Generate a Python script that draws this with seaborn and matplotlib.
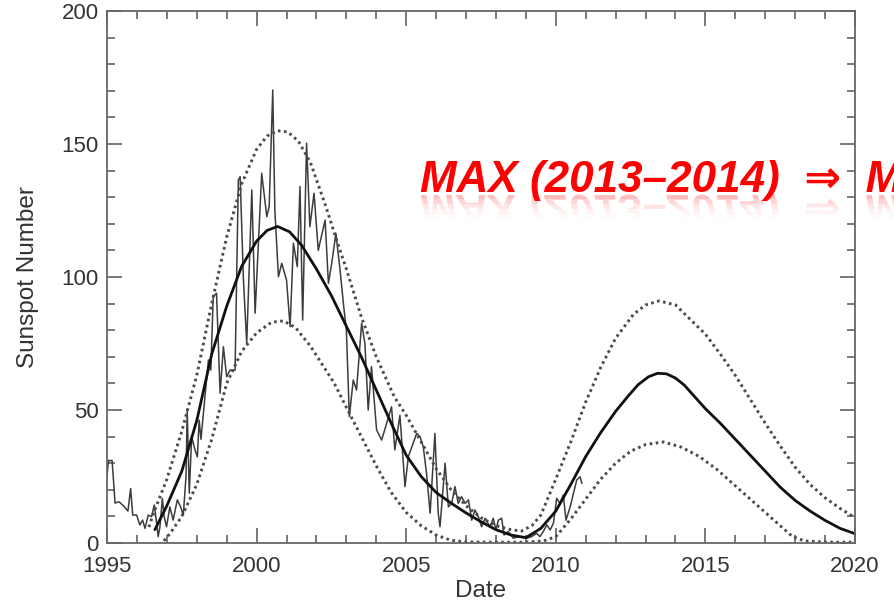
import numpy as np
import pandas as pd
import matplotlib
matplotlib.use("Agg")
import matplotlib.pyplot as plt
import seaborn as sns
from matplotlib.ticker import MultipleLocator
from matplotlib.textpath import TextPath
from matplotlib.patches import PathPatch
from matplotlib.font_manager import FontProperties
from matplotlib.transforms import Affine2D, Bbox

# ---------------- data ----------------
obs_year = [1995.00, 1995.05, 1995.17, 1995.27, 1995.40, 1995.55, 1995.70, 1995.79, 1995.86, 1995.99,
            1996.10, 1996.19, 1996.27, 1996.38, 1996.49, 1996.58, 1996.66, 1996.71, 1996.77, 1996.85,
            1996.91, 1996.99, 1997.10, 1997.21, 1997.35, 1997.46, 1997.55, 1997.64, 1997.68, 1997.75,
            1997.83, 1997.94, 1998.02, 1998.08, 1998.14, 1998.39, 1998.47, 1998.55, 1998.66, 1998.78,
            1998.89, 1999.00, 1999.11, 1999.28, 1999.39, 1999.45, 1999.56, 1999.67, 1999.84, 1999.95,
            2000.17, 2000.34, 2000.42, 2000.54, 2000.61, 2000.73, 2000.84, 2001.00, 2001.12, 2001.23,
            2001.36, 2001.45, 2001.54, 2001.67, 2001.78, 2001.92, 2002.06, 2002.29, 2002.40, 2002.51,
            2002.65, 2002.79, 2002.90, 2003.00, 2003.10, 2003.23, 2003.34, 2003.51, 2003.62, 2003.73,
            2003.84, 2004.01, 2004.18, 2004.51, 2004.62, 2004.79, 2004.96, 2005.07, 2005.35, 2005.46,
            2005.57, 2005.68, 2005.80, 2005.96, 2006.07, 2006.13, 2006.30, 2006.41, 2006.52, 2006.63,
            2006.74, 2006.85, 2006.97, 2007.08, 2007.19, 2007.30, 2007.41, 2007.52, 2007.64, 2007.80,
            2007.91, 2008.00, 2008.08, 2008.19, 2008.27, 2008.41, 2008.58, 2008.75, 2008.91, 2009.03,
            2009.19, 2009.36, 2009.47, 2009.58, 2009.70, 2009.81, 2009.92, 2010.03, 2010.14, 2010.25,
            2010.34, 2010.48, 2010.59, 2010.70, 2010.81, 2010.87]
obs_value = [25, 31, 31, 15, 15.5, 14, 12, 20.5, 10.5, 10.5,
             6.8, 8.6, 5.5, 10.5, 9.9, 14.3, 7.4, 2.4, 6.1, 16.8,
             9.9, 6.1, 13.6, 8.6, 16.2, 13.6, 10.5, 24.9, 50, 18.7,
             40, 35, 32.4, 46.2, 39, 68.8, 65, 92.6, 93.9, 56.3,
             73.8, 62.5, 65, 65, 136.5, 137.7, 98.9, 75, 132.7, 86.4,
             139, 122.7, 126.4, 170.3, 125.2, 100.1, 105.1, 98.9, 81.3, 112.7,
             103.9, 134, 83.8, 150.3, 118.9, 131.5, 110, 121.4, 97.6, 105.1,
             116.4, 102.6, 90.1, 80, 47.5, 61.3, 57.5, 82.6, 75, 50,
             66.3, 42.5, 38.7, 51.2, 35, 48, 21.2, 32.4, 41.2, 40,
             36.2, 26.2, 11.2, 41.2, 11.2, 6.1, 30, 13.6, 14.9, 21.2,
             14.9, 17.4, 14.9, 16.2, 8.6, 12.4, 9.9, 6.1, 9.3, 6.1,
             9.3, 4.9, 8.6, 9.3, 3, 4.3, 1.8, 2.4, 2.1, 1.8,
             2.4, 3.6, 2.4, 4.3, 6.8, 4.9, 7.4, 16.8, 14.9, 18,
             8.6, 13.6, 18.7, 23.7, 24.9, 22.4]

mean_year = [1996.6, 1997.0, 1997.5, 1998.0, 1998.5, 1999.0, 1999.5, 2000.0, 2000.35, 2000.7,
             2001.1, 2001.5, 2002.0, 2002.5, 2003.0, 2003.5, 2004.0, 2004.5, 2005.0, 2005.5,
             2006.0, 2006.5, 2007.0, 2007.5, 2008.0, 2008.5, 2009.0, 2009.5, 2010.0, 2010.5,
             2011.0, 2011.5, 2012.0, 2012.4, 2012.75, 2013.1, 2013.4, 2013.7, 2014.0, 2014.3,
             2014.6, 2015.0, 2015.5, 2016.0, 2016.5, 2017.0, 2017.5, 2018.0, 2018.5, 2019.0,
             2019.5, 2020.0]
mean_value = [5, 14, 27, 46, 71, 89, 104, 113.5, 117.5, 119,
              117, 112, 103, 93, 81.5, 70, 57.5, 45, 33, 25,
              19, 15, 11.3, 8, 5, 3, 2, 5.5, 12, 22,
              32.5, 41.5, 49.5, 55, 59.5, 62.5, 63.8, 63.6, 62, 59.3,
              55.5, 50.5, 45, 39, 33, 27, 21, 16, 12, 8.5,
              5.5, 3.5]

upper_year = [1996.4, 1996.55, 1997.0, 1997.5, 1998.0, 1998.5, 1999.0, 1999.5, 2000.0, 2000.35,
              2000.7, 2001.05, 2001.4, 2001.8, 2002.3, 2002.7, 2003.0, 2003.5, 2004.0, 2004.6,
              2005.0, 2005.5, 2006.0, 2006.5, 2007.0, 2007.5, 2008.0, 2008.5, 2008.85, 2009.2,
              2009.5, 2010.0, 2010.5, 2011.0, 2011.5, 2012.0, 2012.6, 2013.0, 2013.45, 2014.0,
              2014.5, 2015.0, 2015.5, 2016.0, 2016.5, 2017.0, 2017.5, 2018.0, 2018.5, 2019.0,
              2019.5, 2020.0]
upper_value = [6, 11, 24, 42, 63, 90, 115, 135, 148, 153,
               155, 154.5, 151, 143, 127, 113, 103, 85, 70, 55,
               48, 38, 28, 20, 14, 9.5, 6.5, 5, 4.5, 6.5,
               10.5, 24, 38, 53, 66, 77, 86, 89.5, 91, 89.5,
               84, 78.5, 71, 63, 54, 45, 36.5, 28.5, 22, 17,
               13, 9.5]

lower_year = [1996.9, 1997.1, 1997.5, 1998.0, 1998.5, 1999.0, 1999.5, 2000.0, 2000.5, 2000.9,
              2001.3, 2001.8, 2002.2, 2002.6, 2003.0, 2003.5, 2004.0, 2004.5, 2005.0, 2005.5,
              2006.0, 2006.5, 2007.0, 2008.0, 2009.0, 2009.6, 2010.0, 2010.5, 2010.9, 2011.5,
              2012.0, 2012.5, 2013.0, 2013.6, 2014.2, 2014.8, 2015.4, 2015.9, 2016.5, 2017.0,
              2017.5, 2017.9, 2018.3, 2019.0, 2020.0]
lower_value = [0.8, 3.5, 10, 22, 39, 60, 72, 79, 83, 83.5,
               81, 74, 67, 60, 51, 40, 29, 19, 11.5, 6.5,
               3, 1, 0.4, 0.3, 0.3, 0.8, 2.4, 9, 15, 24,
               30, 34.5, 37, 38, 36, 32.5, 27.5, 22.5, 16.5, 11.5,
               6.5, 2.5, 0.8, 0.3, 0.3]

x_ticks = [1995, 2000, 2005, 2010, 2015, 2020]
y_ticks = [0, 50, 100, 150, 200]
annotation = "MAX (2013\u20132014)  \u21d2  M"

# ---------------- style ----------------
sns.set_style("ticks")
plt.rcParams["font.family"] = ["Liberation Sans", "DejaVu Sans"]

W, H = 895, 603
fig = plt.figure(figsize=(W / 100, H / 100), dpi=100)
L, R, T, B = 107, 855, 11, 543
ax = fig.add_axes([L / W, 1 - B / H, (R - L) / W, (B - T) / H])

df_obs = pd.DataFrame({"year": obs_year, "value": obs_value})
df_mean = pd.DataFrame({"year": mean_year, "value": mean_value})
df_up = pd.DataFrame({"year": upper_year, "value": upper_value})
df_lo = pd.DataFrame({"year": lower_year, "value": lower_value})

sns.lineplot(data=df_obs, x="year", y="value", ax=ax, color="#3c3c3c",
             linewidth=1.1, estimator=None, sort=False)
sns.lineplot(data=df_up, x="year", y="value", ax=ax, color="#4a4a4a",
             linewidth=2.1, linestyle=(0, (0.9, 1.2)), estimator=None, sort=False)
sns.lineplot(data=df_lo, x="year", y="value", ax=ax, color="#4a4a4a",
             linewidth=2.1, linestyle=(0, (0.9, 1.2)), estimator=None, sort=False)
sns.lineplot(data=df_mean, x="year", y="value", ax=ax, color="#111111",
             linewidth=2.0, estimator=None, sort=False)

ax.set_xlim(1995, 2020)
ax.set_ylim(0, 200)
ax.set_xticks(x_ticks)
ax.set_yticks(y_ticks)
ax.xaxis.set_minor_locator(MultipleLocator(1))
ax.yaxis.set_minor_locator(MultipleLocator(10))
ax.tick_params(which="both", direction="in", top=True, right=True,
               color="#555555", width=1.1)
ax.tick_params(which="major", length=11, labelsize=16, labelcolor="#333333")
ax.tick_params(axis="x", which="major", pad=9)
ax.tick_params(axis="y", which="major", pad=6)
ax.tick_params(which="minor", length=5.5)
for s in ax.spines.values():
    s.set_color("#666666")
    s.set_linewidth(1.3)

ax.set_xlabel("Date", fontsize=17.5, color="#333333")
ax.set_ylabel("Sunspot Number", fontsize=17.5, color="#333333")
ax.xaxis.set_label_coords(0.5, -0.07)
ax.yaxis.set_label_coords(-0.091, 0.5)

# ---------------- red annotation with faded reflection ----------------
tx, base = 420, 192  # pixel x, baseline y (image coords)
fs_px = 44
fig.text(tx / W, 1 - base / H, annotation, color="#ff0000", fontsize=fs_px * 0.72,
         fontweight="bold", fontstyle="italic", ha="left", va="baseline",
         family=["Liberation Sans", "DejaVu Sans"], zorder=10)

fp = FontProperties(family=["Liberation Sans", "DejaVu Sans"], weight="bold", style="italic")
tp = TextPath((0, 0), annotation, size=fs_px, prop=fp)
mirror_y = H - (base + 3)
bands = [(194, 199, 0.26), (199, 204, 0.17), (204, 209, 0.10), (209, 214, 0.05), (214, 219, 0.02)]
for y0, y1, a in bands:
    pp = PathPatch(tp, transform=Affine2D().scale(1, -1).translate(tx, mirror_y),
                   facecolor="#ff0000", edgecolor="none", alpha=a)
    pp.set_clip_box(Bbox.from_extents(0, H - y1, W, H - y0))
    pp.set_clip_on(True)
    fig.add_artist(pp)

fig.savefig("out.png", dpi=100)
